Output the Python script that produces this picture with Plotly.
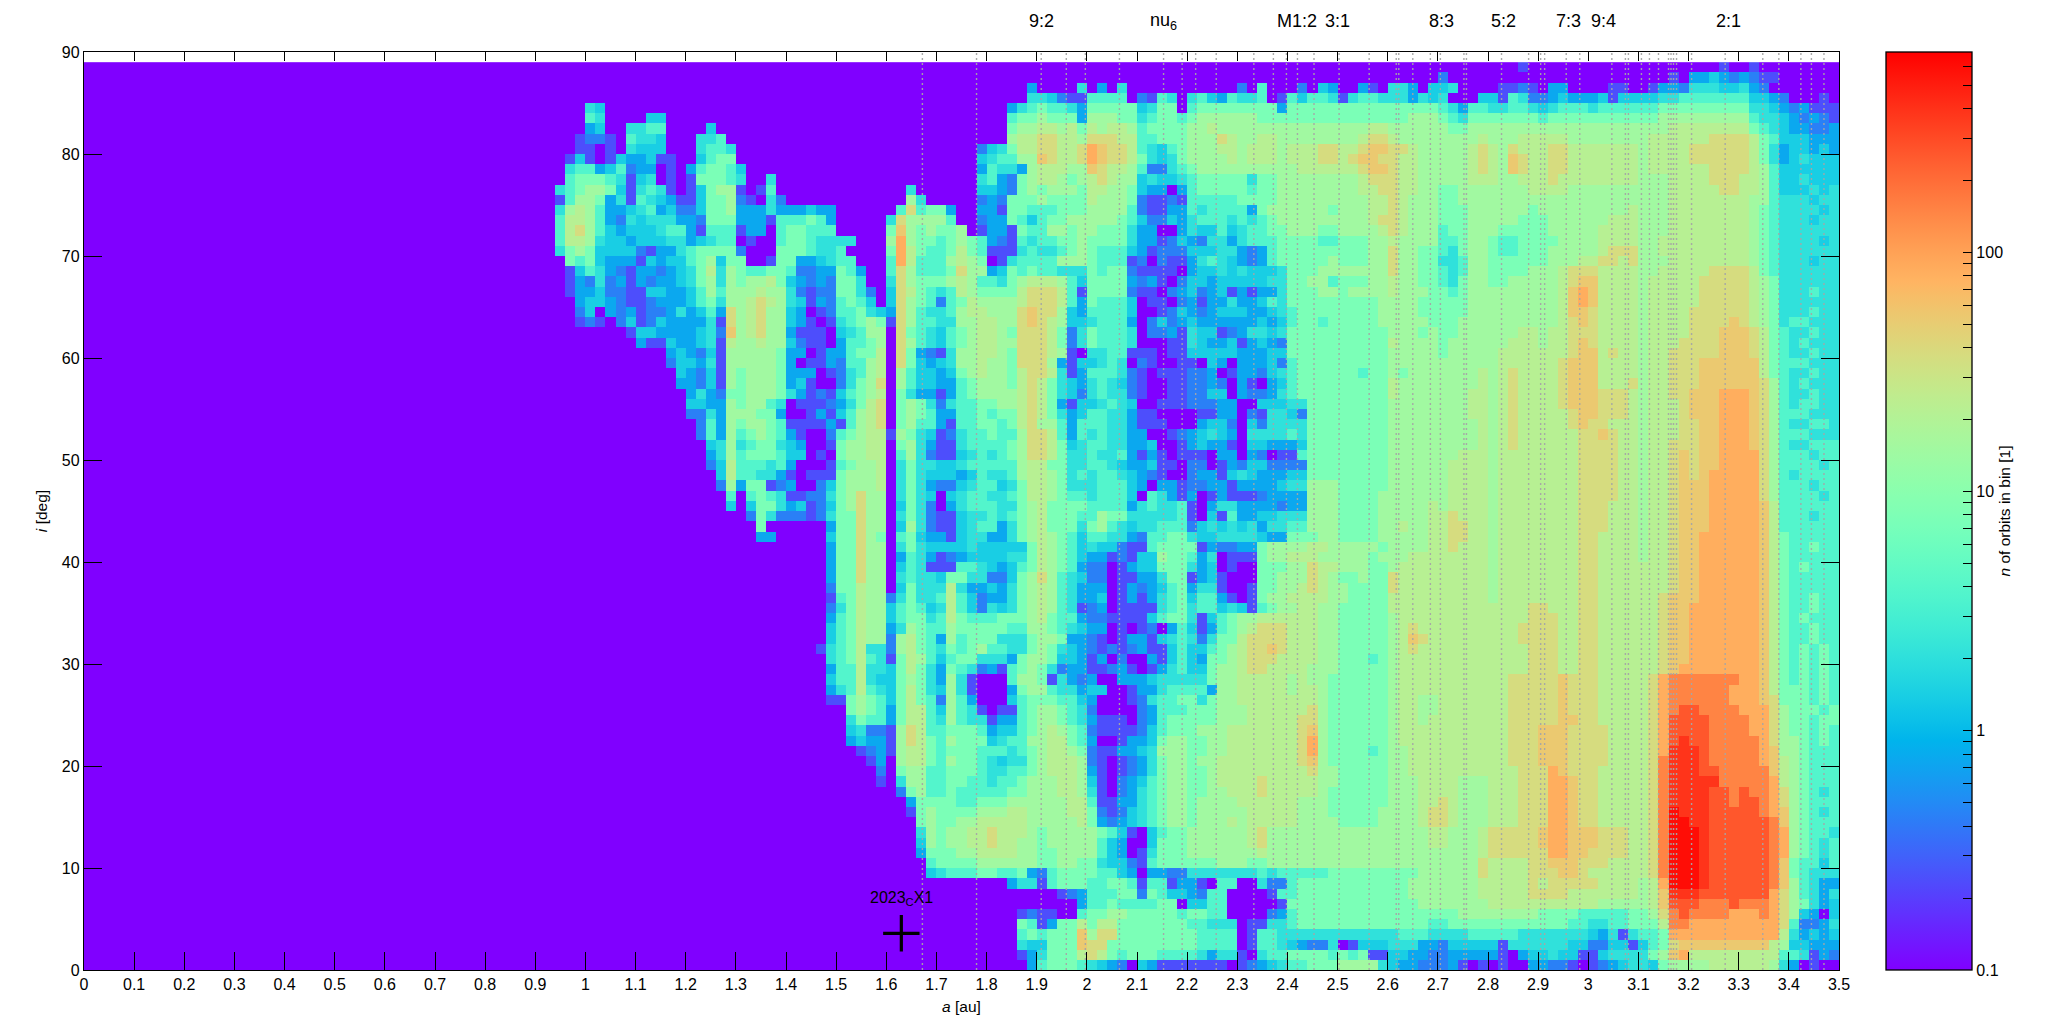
import math
import plotly.graph_objects as go

# level code -> number of orbits in a bin (code is the index in LEVEL_CODES)
LEVEL_CODES = "0123456789abcdefg"
LEVEL_ORBITS = [0.1, 0.24, 0.44, 0.76, 1.4, 2.1, 3.8, 7.6, 15, 22, 37, 54, 83, 150, 260, 390, 600]

A_STEP = 0.02
A_START = 0.90
I_STEP = 1

# one line per inclination bin, from i = 88 down to 0; groups of five cover 0.1 au, from a = 0.90
ROWS = [
"00000 00000 00000 00000 00000 00000 00000 00000 00000 00000 00000 00000 00000 00000 00000 00000 00000 00000 00000 00010 00000 00000 00000 00010 01000 00000",
"00000 00000 00000 00000 00000 00000 00000 00000 00000 00000 00000 00000 00000 00000 00000 00000 00000 00000 20000 00000 00000 00000 00010 33432 32110 00000",
"00000 00000 00000 00000 00000 00000 00000 00000 00000 00003 00005 03050 00000 00000 20600 02043 00310 55304 45000 01121 03300 00110 01332 55544 53200 00000",
"00000 00000 00000 00000 00000 00000 00000 00000 00000 00005 54211 66660 21650 56436 55601 64665 15665 55354 50004 41652 23433 34144 44556 66666 64432 00010",
"00000 54000 00000 00000 00000 00000 00000 00000 00000 00356 76653 77777 45770 67777 77773 77777 77777 77777 65366 55665 45666 56666 66777 77777 75543 23111",
"00000 65000 04400 00000 00000 00000 00000 00000 00000 00677 87773 88877 56776 78888 88777 77777 77777 77888 76577 77777 67777 77777 77888 88888 86554 32321",
"00000 34005 56600 00400 00000 00000 00000 00000 00000 00788 99897 98998 67777 88988 88888 88888 88899 88888 87788 88888 88888 88888 88899 99999 97654 33223",
"00001 22106 55400 05560 00000 00000 00000 00000 00000 00899 aa998 aaa99 66777 888a9 88998 88888 889aa 98888 88889 88899 99988 88888 89999 99aaa a9764 44333",
"00001 10105 44400 05665 00000 00000 00000 00000 00002 45799 aa99a cbaa9 65467 88899 89998 999aa 99abb aa988 8889a 98a99 9aa99 99999 89999 aaaaa a9753 44343",
"00014 10143 34110 04677 00000 00000 00000 00000 00004 56688 ba99a cbaa9 75457 88889 89998 999aa 9abba a9988 8889a 98ba9 9aa99 99999 89999 aaaaa a9753 45444",
"00056 63462 33010 36776 40000 00000 00000 00000 00003 65538 99988 ba998 62256 78888 88888 89999 99abb a9988 8889a 98ba9 9aa99 99999 89999 99aaa a9864 44444",
"00067 77651 45010 17776 50050 00000 00000 00000 00005 63278 99878 9a988 45445 67777 75778 88888 889aa a9988 88899 98899 9a999 99999 88899 99aaa 99864 45444",
"00567 88741 56510 14788 10160 00000 00000 00500 00004 43278 78887 99887 43303 67777 76778 88888 8899a a9988 77888 88889 99988 88888 88899 999aa 99864 44545",
"00168 87351 65431 14778 21052 00000 00000 00850 00002 32777 87777 98887 21121 66666 77778 88888 88899 a9888 77888 88888 88888 88888 88899 99999 98865 55455",
"00589 86334 56342 24778 33353 33433 00000 06a67 73003 31776 66777 88886 21133 65666 63788 88887 88899 a9888 77788 88887 88888 88889 88899 99999 98765 55545",
"00699 86325 45553 32777 33316 66763 00000 5a888 86002 33764 67788 88876 42243 56665 65678 88888 8889a a9888 77788 88877 78888 88999 88899 99999 98765 55455",
"0069a 86434 44566 31666 13306 77666 00000 7b878 77801 33176 68878 87775 33003 54464 56677 88877 88889 a9888 67788 87777 78888 89999 88899 99999 98765 55555",
"00699 85443 44455 34566 01006 77655 55000 8c877 67876 32165 66778 77775 33124 32553 56667 77766 77788 98888 66788 76677 77888 89999 88999 99999 98765 55545",
"00578 74444 21335 67777 20007 77655 60000 7c976 67976 11156 55678 76664 31222 44455 32367 77777 77788 a8877 65788 76677 78888 89aaa 88999 99999 98765 55555",
"00076 74333 14344 67847 70017 73345 66000 6c966 68987 01566 66888 76661 20211 35654 32367 77778 77788 a8877 55688 77777 78889 9aa9a 88899 99999 98765 55455",
"00014 65321 33234 57958 76677 62233 76300 6a866 67a88 34767 66555 76772 11110 34454 54445 77788 88888 a8877 65688 77778 889aa a9999 88999 99aaa a9765 55555",
"00013 25231 32334 57858 78897 43232 77500 5a877 78986 65789 99864 77773 23102 44344 44455 77886 77788 98877 65788 77888 889ab b9999 89999 9aaaa a9875 55555",
"00013 34221 14433 46868 88988 52122 77520 4a976 56987 7779a aa961 77772 11023 42341 31335 77788 78888 98887 76788 88888 889bc b9999 89999 9aaaa a9875 55655",
"00003 44321 12333 46758 89a98 54132 67640 4a876 26798 8889a aa963 76664 01102 31335 33465 77777 77778 88877 77788 88888 889bc b9999 89999 9aaaa a9875 55555",
"00002 40323 12235 3463a 89a88 43012 66754 3a865 56899 888ab aa843 66664 00124 32344 43345 67777 77778 88877 77788 88888 889bb a9999 89999 aaaaa a9875 55655",
"00001 21024 12433 3351a 89a88 43101 56787 1a866 55889 988ab a9844 56663 02423 43333 33434 67767 77778 88887 77888 88888 889ab a9999 89999 aaaab a9875 66555",
"00000 00001 44333 3452b 89a88 31110 45688 0a765 46789 987aa a9725 76665 02231 54412 35545 77777 77777 88878 77888 88899 899aa a9999 89999 aaabb ba976 55655",
"00000 00000 31143 34519 88988 42110 36678 0a865 46789 988aa a9725 76665 00011 54334 13432 77777 77777 98888 78888 88999 899ab a9999 8999a aaabb ba976 56555",
"00000 00000 00034 32418 88887 33013 36779 0a732 15889 987aa a9810 55661 11011 44444 33344 77777 77777 88888 78888 89999 999ab b9a99 899aa aaabb ba976 55655",
"00000 00000 00024 43518 88887 30113 26689 0a743 45889 887aa a8314 45650 21001 10430 33342 67777 77777 88888 88888 89999 99abb b9999 899aa abbbb bb976 66555",
"00000 00000 00004 32418 78887 33301 25689 08644 34789 8879a a9513 66652 10111 22301 33245 67777 77677 87888 88889 89a99 99abb b9999 899aa abbbb bb976 55655",
"00000 00000 00003 32418 78887 34100 2578a 08644 33678 8879a 97543 56542 10011 22320 31034 67777 77777 98888 88889 89a99 99abb b999a 899aa abbbb bba86 56555",
"00000 00000 00000 35327 78887 53121 46789 07533 13678 8889a 97542 56552 10011 22440 32235 67777 77777 98888 88899 89a99 99abb baaa9 899aa bbbcc cba86 55655",
"00000 00000 00000 44338 78865 01112 3579a 07875 25667 7889a 97314 45654 00111 22233 00444 55777 77777 88888 88899 89a99 99abb baaa9 8999a bbbcc cba86 56655",
"00000 00000 00000 22538 88773 00131 4689a 07876 33667 6779a 97534 66553 11000 01133 02155 42777 77777 88888 88899 89a99 999ab baaa9 8999a bbbcc cba86 66555",
"00000 00000 00000 02638 78876 11113 1689a 07866 31667 7679a 88636 66553 11100 03442 04255 55777 77777 88888 88889 89a99 999ab aa999 8999a abbcc cba86 55665",
"00000 00000 00000 02638 67876 31002 67899 18754 12566 7668a a9636 56553 30012 34543 05555 65777 77777 88888 88889 89a99 9999a aba99 8999a abbcc cba86 66555",
"00000 00000 00000 00458 56775 43001 78899 07853 11566 6678a a9745 66553 34001 34331 04433 34777 77777 88888 88889 89a99 9999a aaa99 899aa abbcc cba86 55666",
"00000 00000 00000 00358 67776 44010 78899 06852 11456 5678a a9755 65563 13101 11033 03201 16777 77777 88888 88999 89999 9999a aaa99 899ab abbcc cca86 66566",
"00000 00000 00000 00249 66656 30001 67889 05755 44566 66689 97755 66543 34110 22013 24422 22777 77777 88888 89999 89999 9999a aaa99 899ab abbcc cca86 66656",
"00000 00000 00000 00049 66553 10111 78889 05754 44346 55689 98756 56654 32100 23314 54333 44777 77777 88888 89999 89999 9999a aaa99 899ab abccc cca86 56666",
"00000 00000 00000 00028 37712 30024 78889 05753 22456 64579 98755 56664 30331 22331 33334 55888 77777 88888 89999 89999 9999a aaa99 899ab bbccc cca86 66566",
"00000 00000 00000 00006 06765 11225 78a88 05754 04566 55679 98766 56664 06531 30131 11233 33888 77778 88888 89999 89999 9999a aaa99 899ab bbccc cca86 66656",
"00000 00000 00000 00004 04775 34124 78a88 04752 03566 65578 97777 66663 56556 10355 33332 33888 77778 88889 89999 89999 9999a aa999 899ab bbccc ccb96 66666",
"00000 00000 00000 00000 02752 22125 77a88 05752 11455 65678 97776 68775 55556 10416 33445 55888 77778 88889 9a999 89999 9999a aa999 899ab bbccc ccb96 66566",
"00000 00000 00000 00000 00700 00003 77a88 04852 11456 63578 97775 78654 55666 24545 45355 66888 77778 89889 9aa99 89999 9999a aa999 899ab bbccc ccb96 66666",
"00000 00000 00000 00000 00330 00004 77a87 06743 31455 33578 98764 66553 26677 54455 55433 77788 77778 88889 9aa99 89999 9999a a9999 899ab bcccc ccb97 66666",
"00000 00000 00000 00000 00000 00003 77a88 05754 44454 44447 98764 54421 16777 71322 33788 88998 88887 88889 9a999 89999 9999a a9999 899ab bcccc ccb97 66766",
"00000 00000 00000 00000 00000 00003 77a88 03653 12344 44557 98764 33121 44877 63501 11788 99988 88878 88999 99999 89999 9999a a9999 899ab bcccc ccb97 66666",
"00000 00000 00000 00000 00000 00003 77a88 04651 11665 43467 98763 22013 44777 53401 00777 88a99 88877 89999 99999 89999 9999a a9999 999ab bcccc ccb97 67666",
"00000 00000 00000 00000 00000 00003 77a88 05655 47755 22478 a8654 22011 33577 13410 00778 88a98 77877 a9999 99999 89999 9999a a9999 999ab bcccc ccb97 66666",
"00000 00000 00000 00000 00000 00002 77988 04755 59533 43578 98653 33013 23467 35510 01778 89a98 87777 a9999 99999 89999 9999a a9999 999ab bcccc ccb97 66666",
"00000 00000 00000 00000 00000 00001 67988 25755 69642 33578 98653 34013 13567 46631 01788 99998 87777 99999 99999 89999 9999a a9999 99abb bcccc ccb97 66766",
"00000 00000 00000 00000 00000 00002 57988 46764 59642 54578 98651 23011 11567 56645 41678 89988 77777 99999 99999 9999a a999a a9999 99abb ccccc ccb97 66766",
"00000 00000 00000 00000 00000 00003 67988 46775 69766 67778 97663 22111 14677 51467 88999 99988 77777 89999 99999 9999a aa99a a9999 99abb ccccc ccb97 67666",
"00000 00000 00000 00000 00000 00004 67988 35876 68777 77668 87654 33010 12036 41367 89aaa 99988 77777 89a99 99999 999aa aa99a a9999 99abb ccccc ccb97 66766",
"00000 00000 00000 00000 00000 00004 67988 28976 38677 75557 88733 21013 31456 52577 9aaaa 99988 77777 89ba9 99999 999aa aa99a a9999 99abb ccccc ccb97 66766",
"00000 00000 00000 00000 00000 00015 67955 28976 57678 66557 87543 21212 31146 44678 9aaba 99988 77777 89a99 99999 9999a aa99a a9999 99abb ccccc ccb97 67676",
"00000 00000 00000 00000 00000 00005 67965 17986 46775 55378 87443 13020 03146 43778 9aaa9 99988 77767 89999 99999 9999a aa99a a9999 99abb ccccc ccb97 67676",
"00000 00000 00000 00000 00000 00003 66955 47975 37652 31678 75233 11231 01356 44788 9aa99 99888 77777 89999 99999 9999a aa99a a9999 99abc ccccc ccb97 67676",
"00000 00000 00000 00000 00000 00004 66954 47875 38510 00688 71532 30033 34555 55788 99999 89887 77777 89999 99999 99aaa aabaa a9999 9acdd ddddd ccb97 67676",
"00000 00000 00000 00000 00000 00003 56965 47975 48510 00378 86553 44001 33566 66388 99999 89987 77777 89999 99999 99aaa aabaa a9999 9acdd ddddc ccb97 77676",
"00000 00000 00000 00000 00000 00001 17876 47976 28630 00467 77664 30001 25667 75788 99999 99987 77777 89988 99999 99aaa aabaa a9999 9acdd ddddc ccba7 77676",
"00000 00000 00000 00000 00000 00000 07876 37996 48651 01167 88765 20000 23666 77788 89999 99a87 77777 89988 99999 99aaa aabaa a9999 9acde edddd ccca8 77767",
"00000 00000 00000 00000 00000 00000 05766 37996 58655 13367 88765 31110 23677 77788 89999 9aa87 77777 89989 99999 99aaa aabba a9999 9acee eeddd dcca8 77677",
"00000 00000 00000 00000 00000 00000 04522 18a96 67776 34467 89876 21111 24677 78889 99999 9ab87 77777 89999 99999 99aaa bbbaa aa999 9acee eeddd dcca8 77676",
"00000 00000 00000 00000 00000 00000 03433 18a97 68777 45668 89976 30013 34788 77889 99999 9ac87 77777 89999 99999 99aaa bbbaa aa999 9acef eeddd ddca8 87676",
"00000 00000 00000 00000 00000 00000 00123 18997 67776 66567 89987 21133 45888 77889 99999 9ac87 77767 88999 99999 99aaa bbbaa aa999 9acff feddd ddcb8 87666",
"00000 00000 00000 00000 00000 00000 00013 08997 68776 54557 89998 21012 35788 78899 99999 9ab87 77777 88999 99999 99aaa bbbaa aa999 9adff feddd ddcb9 87666",
"00000 00000 00000 00000 00000 00000 00002 07886 67776 55667 89998 31012 35788 77899 99999 99a88 77777 88999 99999 999aa acbaa a9999 9adff feedd dddb9 87666",
"00000 00000 00000 00000 00000 00000 00001 05886 67766 56678 88998 41023 46788 77899 99a99 99988 77777 88899 99888 999aa accba a9999 9adff fffdd dddc9 87666",
"00000 00000 00000 00000 00000 00000 00000 02786 67666 66778 88998 51023 56788 77889 99a99 99987 77777 88899 99888 999aa accba a9999 9adff ffeed eddca 87656",
"00000 00000 00000 00000 00000 00000 00000 00377 77667 77888 88899 61133 56788 78888 99999 98887 77777 88899 a9888 999aa accba a9999 9adff ffeed eedca 87666",
"00000 00000 00000 00000 00000 00000 00000 00178 77778 88998 88899 72124 56788 78888 89999 98887 77778 8889a a9888 999aa accba a9999 9adgf ffeee eedcb 87656",
"00000 00000 00000 00000 00000 00000 00000 00078 77889 99998 88889 73234 56788 78889 89999 98888 77778 8889a a9888 999aa accba a9999 9adgg ffeee eeedb 87666",
"00000 00000 00000 00000 00000 00000 00000 00058 78899 a9998 78888 87641 04677 88888 89a88 88888 88888 88889 98889 aaaaa bccbb baaa9 9adgg gfeee eeedc 87665",
"00000 00000 00000 00000 00000 00000 00000 00048 78899 a9988 78888 86430 04777 88888 89a88 88888 88888 88889 98889 aaaaa bccbb baaa9 9adgg gfeee eeedc 87656",
"00000 00000 00000 00000 00000 00000 00000 00037 77889 99988 77888 86430 15777 88888 88988 88888 88888 88888 88889 aaaaa accbb aaaa9 9adgg gfeee eeedc 87656",
"00000 00000 00000 00000 00000 00000 00000 00006 77778 88888 77887 75442 16777 77788 87788 88888 88888 88888 8888a 9999a abbba aa999 9adgg gfeee eeedb 76646",
"00000 00000 00000 00000 00000 00000 00000 00004 56667 76673 26777 76643 03322 55555 55656 66667 77777 77788 8888a 9999a aabba 99999 9adgg gfeee eeedb 76555",
"00000 00000 00000 00000 00000 00000 00000 00000 00000 00355 16777 66776 16613 31066 00522 67777 77777 77888 88889 9999a 9aaaa a9999 89cgg gfeee eeedb 86533",
"00000 00000 00000 00000 00000 00000 00000 00000 00000 00000 00123 66677 27644 32660 00016 67777 77777 77888 88889 9999a aaa99 99999 89bff feeee eeeca 86535",
"00000 00000 00000 00000 00000 00000 00000 00000 00000 00000 00003 66766 66770 44660 00001 77777 77777 77788 88888 99999 99999 98888 89bee eddde dddca 87534",
"00000 00000 00000 00000 00000 00000 00000 00000 00000 00012 11006 77887 77776 77660 00023 67777 77777 77777 77888 88888 77776 66667 78ade ddddc ccdca 84304",
"00000 00000 00000 00000 00000 00000 00000 00000 00000 00076 13779 79977 77777 66555 01155 67777 77777 77776 67777 77777 77766 55667 779dd ccccc cccca 62235",
"00000 00000 00000 00000 00000 00000 00000 00000 00000 00067 6777b 8aa77 77777 76666 01665 55555 55555 56665 55566 66655 55555 43515 667cc ccccc cccc9 53434",
"00000 00000 00000 00000 00000 00000 00000 00000 00000 00054 4777b aa777 77777 76666 01665 43225 01444 55533 24444 41555 55544 22441 467ab bbbbb bbb98 44333",
"00000 00000 00000 00000 00000 00000 00000 00000 00000 00013 57779 a9767 77666 65355 10566 77776 76711 44332 23333 31034 45441 14555 578bc 99999 99996 65132",
"00000 00000 00000 00000 00000 00000 00000 00000 00000 00003 67776 54320 43111 11110 12345 66777 88885 43322 23101 01003 32210 12345 54788 88999 99985 30100",
]

RESONANCE_A = [1.672, 1.78, 1.909, 1.959, 1.997, 2.065, 2.153, 2.19, 2.217, 2.258, 2.333, 2.372, 2.398,
               2.42, 2.453, 2.503, 2.563, 2.617, 2.622, 2.65, 2.685, 2.705, 2.752, 2.757, 2.827, 2.881,
               2.905, 2.913, 2.956, 2.983, 3.047, 3.074, 3.08, 3.106, 3.122, 3.14, 3.16, 3.165, 3.17,
               3.176, 3.206, 3.273, 3.348, 3.38, 3.424, 3.445, 3.47]
RESONANCE_NAMES = ["9:2", "nu<sub>6</sub>", "M1:2", "3:1", "8:3", "5:2", "7:3", "9:4", "2:1"]
RESONANCE_LABEL_A = [1.91, 2.153, 2.42, 2.50, 2.708, 2.83, 2.96, 3.03, 3.28]

OBJECT_NAME = "2023<sub>C</sub>X1"
OBJECT_A = [1.63]
OBJECT_I = [3.6]

BAR_MAJOR = [0.1, 1, 10, 100]
BAR_TICKS = [0.1, 0.2, 0.3, 0.4, 0.5, 0.6, 0.7, 0.8, 0.9, 1, 2, 3, 4, 5, 6, 7, 8, 9,
             10, 20, 30, 40, 50, 60, 70, 80, 90, 100, 200, 300, 400, 500, 600]
BAR_MAX = 690

FONT = "Liberation Sans, Arial, sans-serif"

# build the grid: empty bins left of a = 0.90
n_pad = int(round(A_START / A_STEP))
grid = []
for row in reversed(ROWS):
    cells = row.replace(" ", "")
    codes = "0" * n_pad + cells
    grid.append([math.log10(LEVEL_ORBITS[LEVEL_CODES.index(c)]) for c in codes])
n_cols = len(grid[0])


def rainbow(x):
    # gnuplot palette rgbformulae 33,13,10
    r = min(1.0, abs(2 * x - 0.5))
    g = math.sin(math.pi * x)
    b = math.cos(math.pi * x / 2)
    return "rgb(%d,%d,%d)" % (round(255 * r), round(255 * g), round(255 * max(b, 0)))


scale = [[k / 64, rainbow(k / 64)] for k in range(65)]

fig = go.Figure()
fig.add_trace(go.Heatmap(
    z=grid,
    x0=A_STEP / 2, dx=A_STEP,
    y0=I_STEP / 2, dy=I_STEP,
    colorscale=scale,
    zmin=math.log10(0.1), zmax=math.log10(BAR_MAX),
    hoverinfo="skip",
    colorbar=dict(
        x=(1886 - 83.5) / 1755.5, xanchor="left", xpad=0,
        y=0.5, yanchor="middle", ypad=0, len=1, lenmode="fraction",
        thickness=86, thicknessmode="pixels",
        outlinecolor="black", outlinewidth=1.3,
        ticks="inside", ticklen=9, tickcolor="black", tickwidth=1,
        tickvals=[math.log10(v) for v in BAR_TICKS],
        ticktext=[("%g" % v) if v in BAR_MAJOR else "" for v in BAR_TICKS],
        tickfont=dict(size=16, family=FONT, color="black"),
        title=dict(text="<i>n</i> of orbits in bin [1]", side="right",
                   font=dict(size=15.5, family=FONT, color="black")),
    ),
))

line_x, line_y = [], []
for a in RESONANCE_A:
    line_x += [a, a, None]
    line_y += [0, 90, None]
fig.add_trace(go.Scatter(
    x=line_x, y=line_y, mode="lines", xaxis="x2", yaxis="y",
    line=dict(color="rgba(165,165,165,0.95)", width=1.4, dash="2px,3px"),
    hoverinfo="skip", showlegend=False,
))
fig.add_trace(go.Scatter(
    x=OBJECT_A, y=OBJECT_I, mode="markers",
    marker=dict(symbol="cross-thin", size=26, line=dict(color="black", width=3.2)),
    hoverinfo="skip", showlegend=False,
))

for name, a in zip(RESONANCE_NAMES, RESONANCE_LABEL_A):
    fig.add_annotation(x=a, xref="x", y=(972 - 21) / 920, yref="paper", text=name,
                       showarrow=False, yanchor="middle",
                       font=dict(size=18, family=FONT, color="black"))
fig.add_annotation(x=OBJECT_A[0], xref="x", y=7.0, yref="y", text=OBJECT_NAME, showarrow=False,
                   font=dict(size=16, family=FONT, color="black"))

axis_common = dict(showgrid=False, zeroline=False, linecolor="black", linewidth=1.3,
                   tickcolor="black", tickwidth=1.3,
                   tickfont=dict(size=16, family=FONT, color="black"))
fig.update_layout(
    width=2048, height=1024,
    margin=dict(l=83.5, r=209, t=52, b=52, pad=0),
    paper_bgcolor="white", plot_bgcolor="white",
    showlegend=False,
    font=dict(family=FONT, color="black"),
    xaxis=dict(range=[0, 3.5], tick0=0, dtick=0.1, ticks="inside", ticklen=18,
               title=dict(text="<i>a</i> [au]", standoff=8, font=dict(size=15.5, family=FONT)),
               **axis_common),
    xaxis2=dict(range=[0, 3.5], tick0=0, dtick=0.1, overlaying="x", side="top", anchor="y",
                ticks="inside", ticklen=9, showticklabels=False, **axis_common),
    yaxis=dict(range=[0, 90], tick0=0, dtick=10, ticks="inside", ticklen=18, mirror="ticks",
               title=dict(text="<i>i</i> [deg]", standoff=10, font=dict(size=15.5, family=FONT)),
               **axis_common),
)

fig.write_html("out.html", config={"displayModeBar": False},
               post_script="document.body.style.margin='0';")
